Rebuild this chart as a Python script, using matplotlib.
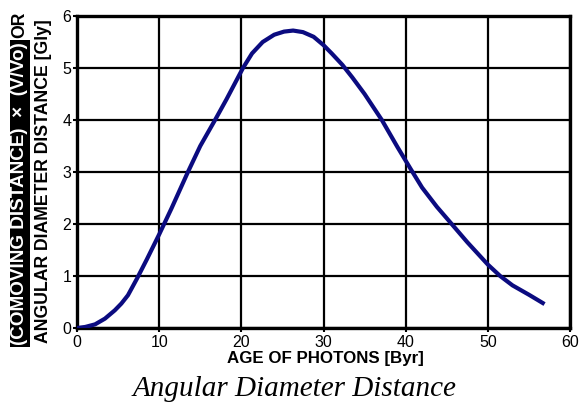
import numpy as np
import matplotlib
matplotlib.use("Agg")
import matplotlib.pyplot as plt

# ---------------------------
# Data: age of photons (Byr) vs angular diameter distance (Gly)
# ---------------------------
age_byr = [0, 1, 2.2, 3.4, 4.6, 5.4, 6.2, 7.3, 8.5, 10, 11.5, 13.5, 15, 16.8,
           18.2, 19.2, 20.2, 21.3, 22.6, 24, 25.2, 26.3, 27.5, 28.8, 30, 31,
           32.3, 33.5, 35, 37.1, 39, 40.6, 42, 43.8, 45.6, 47.5, 50, 51.5,
           53, 55, 56.9]
distance_gly = [0, 0.02, 0.07, 0.18, 0.34, 0.47, 0.63, 0.95, 1.32, 1.8, 2.3,
                3.0, 3.5, 4.0, 4.4, 4.7, 5.0, 5.28, 5.5, 5.64, 5.70, 5.72,
                5.69, 5.6, 5.44, 5.28, 5.06, 4.82, 4.5, 4.0, 3.48, 3.06, 2.7,
                2.33, 2.0, 1.65, 1.22, 1.0, 0.82, 0.64, 0.46]

x_ticks = [0, 10, 20, 30, 40, 50, 60]
y_ticks = [0, 1, 2, 3, 4, 5, 6]

plt.rcParams["font.family"] = ["Liberation Sans", "DejaVu Sans"]

W, H = 582, 408
fig = plt.figure(figsize=(W / 100, H / 100), dpi=100)
ax = fig.add_axes([77 / W, 1 - 328 / H, 493 / W, 312 / H])

ax.plot(age_byr, distance_gly, color="#0b0b80", linewidth=3.0,
        solid_joinstyle="round", solid_capstyle="butt", zorder=3)

ax.set_xlim(0, 60)
ax.set_ylim(0, 6)
ax.set_xticks(x_ticks)
ax.set_yticks(y_ticks)
ax.grid(True, color="black", linewidth=1.6)
ax.set_axisbelow(True)
for side in ax.spines.values():
    side.set_linewidth(2.4)
ax.tick_params(direction="out", length=3, width=1.5, labelsize=11.5)
ax.tick_params(axis="x", pad=2)
ax.tick_params(axis="y", pad=1)

fig.text(325 / W, 1 - 359 / H, "AGE OF PHOTONS [Byr]", ha="center", va="center",
         fontsize=12.2, fontweight="bold")

fig.text(295 / W, 1 - 389 / H, "Angular Diameter Distance", ha="center",
         va="center", fontsize=21, style="italic",
         family=["Liberation Serif", "DejaVu Serif"])

# Two-line y label; first part white on black, then "OR"
y_lab1 = fig.text(20 / W, 1 - 345 / H, "(COMOVING DISTANCE)  \u00d7  (V/Vo)",
                  rotation=90, ha="center", va="bottom", fontsize=12.7,
                  fontweight="bold", color="white",
                  bbox=dict(facecolor="black", edgecolor="none", pad=1.2))
# stretch the boxed part so it runs up to just below "OR"
fig.canvas.draw()
ext = y_lab1.get_window_extent()
y_lab1.set_fontsize(12.7 * 304 / ext.height)
fig.canvas.draw()
top_px = y_lab1.get_window_extent().y1
fig.text(20 / W, (top_px + 4) / H, "OR", rotation=90, ha="center",
         va="bottom", fontsize=12.7, fontweight="bold", color="black")
fig.text(44 / W, 1 - 343 / H, "ANGULAR DIAMETER DISTANCE [Gly]",
         rotation=90, ha="center", va="bottom", fontsize=12.7,
         fontweight="bold", color="black")

fig.savefig("out.png", dpi=100, facecolor="white")
